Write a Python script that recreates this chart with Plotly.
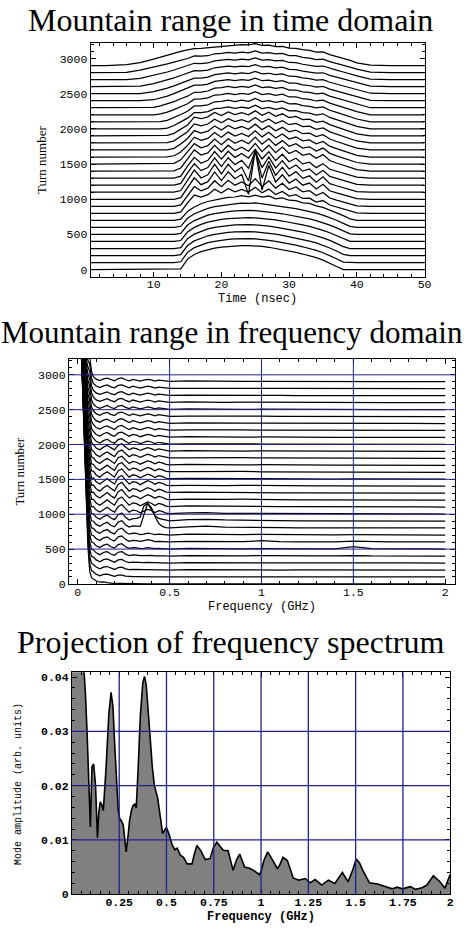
import plotly.graph_objects as go

# ---------------- Panel 1: mountain range in time domain ----------------
turn_numbers = [0, 100, 200, 300, 400, 500, 600, 700, 800, 900, 1000, 1100, 1200, 1300, 1400,
                1500, 1600, 1700, 1800, 1900, 2000, 2100, 2200, 2300, 2400, 2500, 2600, 2700, 2800, 2900]
time_ns = [0.7, 3, 6, 8, 10, 11, 12, 13, 14, 15, 16, 17, 18, 19, 20, 21, 22, 23, 24, 25, 26, 27, 28,
           29, 30, 31, 32, 33, 34, 35, 36, 37, 38, 39, 40, 42, 45, 50]

tp00 = [0,0,0,0,0,0,0,0, 10,150,215,255,285,305,320,330,338,342,342,338,330,318,302,285,265,245,222,198,170,135,95,45, 0,0,0,0,0,0]
tp01 = [0,0,0,0,0,0,0,0, 12,146,212,252,283,303,318,329,337,341,341,337,329,317,302,286,267,247,225,201,174,140,101,55, 8,0,0,0,0,0]
tp02 = [0,0,0,0,0,0,0,0, 12,142,208,250,281,301,317,328,336,340,340,336,328,317,303,287,269,250,229,205,179,146,108,65, 18,0,0,0,0,0]
tp03 = [0,0,0,0,0,0,0,0, 13,139,204,247,279,300,316,327,335,339,340,336,329,318,304,289,272,253,233,210,184,152,116,75, 28,0,0,0,0,0]
tp04 = [0,0,0,0,0,0,0,0, 14,136,200,244,276,298,314,326,334,339,340,337,330,319,306,291,275,257,237,215,190,159,124,85, 38,3,0,0,0,0]
tp05 = [0,0,0,0,0,0,0,0, 15,133,197,241,274,296,313,325,334,340,342,338,331,322,308,294,278,261,242,220,196,166,132,94, 48,8,0,0,0,0]
tp06 = [0,0,0,0,0,0,0,0, 16,130,194,238,271,294,311,324,336,344,340,348,334,330,312,300,282,268,247,228,202,174,140,102, 58,14,0,0,0,0]
tp07 = [0,0,0,0,0,0,0,0, 17,128,191,236,268,292,310,326,332,352,334,360,330,346,306,318,286,280,250,240,206,184,148,110, 68,20,0,0,0,0]
tp08 = [0,0,0,0,0,0,0,0, 20,150,260,230,265,343,288,354,307,339,302,370,291,344,268,312,245,265,211,215,161,182,118,88, 58,28,6,0,0,0]
tp09 = [0,0,0,0,0,0,0,0, 20,150,280,220,258,363,278,370,300,346,292,392,280,362,258,328,238,275,206,222,154,196,118,88, 58,28,6,0,0,0]
tp10 = [0,0,0,0,0,0,0,0, 22,160,305,207,250,388,265,390,292,354,70,700,130,480,245,348,230,287,200,230,146,213,120,90, 60,30,8,0,0,0]
tp11 = [0,0,0,0,0,0,0,0, 24,170,315,202,247,398,260,398,289,357,160,600,200,440,240,356,227,292,197,233,143,220,122,92, 62,32,10,0,0,0]
tp12 = [0,0,0,0,0,0,0,0, 25,175,305,207,250,388,265,390,292,354,240,480,250,400,245,348,230,287,200,230,146,213,124,94, 64,34,12,0,0,0]
tp13 = [0,0,0,0,0,0,0,0, 28,172,295,212,253,378,270,382,295,351,284,408,273,375,250,340,233,282,202,227,149,206,126,96, 66,36,13,0,0,0]
tp14 = [0,0,0,0,0,0,0,4, 44,170,300,227,259,366,271,368,293,341,283,393,277,368,261,341,249,293,224,248,182,234,150,115, 82,50,20,0,0,0]
tp15 = [0,0,0,0,0,0,0,10, 60,168,290,232,262,356,276,360,296,338,288,382,282,359,266,333,252,288,227,245,185,227,152,117, 84,52,22,0,0,0]
tp16 = [0,0,0,0,0,0,2,18, 72,166,282,236,265,348,280,354,299,335,292,373,286,352,270,327,255,284,229,242,188,221,154,119, 86,54,24,0,0,0]
tp17 = [0,0,0,0,0,0,3,24, 84,164,276,239,267,342,283,349,301,333,295,367,289,346,273,322,257,281,231,240,190,217,156,121, 88,56,26,0,0,0]
tp18 = [0,0,0,0,0,0,4,30, 96,160,270,242,269,336,286,344,303,331,298,360,292,341,276,317,259,278,232,238,192,213,158,124, 90,58,28,0,0,0]
tp19 = [0,0,0,0,0,0,8,36, 100,156,266,244,270,332,288,341,304,330,300,356,294,337,278,314,260,276,233,237,193,210,160,128, 94,62,30,0,0,0]
tp20 = [0,0,0,0,0,0,12,48, 100,152,232,232,244,288,294,311,290,310,293,336,289,305,278,298,256,259,231,222,197,214,162,132, 100,68,36,0,0,0]
tp21 = [0,0,0,0,0,4,22,58, 104,150,226,228,242,285,291,308,288,308,292,332,288,302,277,295,255,258,230,221,197,212,164,135, 104,72,40,0,0,0]
tp22 = [0,0,0,0,0,14,38,74, 116,156,222,225,240,281,288,305,287,305,291,328,287,299,275,292,253,255,228,219,196,209,165,137, 107,76,44,0,0,0]
tp23 = [0,0,0,0,5,26,52,88, 128,164,220,223,238,278,286,302,286,303,289,324,285,297,274,288,252,252,227,218,196,207,165,138, 109,78,48,0,0,0]
tp24 = [0,0,0,0,14,38,66,100, 138,172,220,222,237,275,283,298,284,300,288,320,284,294,272,285,250,250,225,216,194,203,164,138, 110,80,50,4,0,0]
tp25 = [0,0,0,2,28,52,80,112, 148,180,222,222,236,271,280,294,282,297,286,315,282,290,270,280,248,247,224,214,193,200,162,137, 110,80,52,6,0,0]
tp26 = [0,0,0,8,44,68,94,124, 158,188,227,224,235,268,276,291,279,293,283,311,279,287,267,277,245,243,221,211,191,197,160,136, 110,82,54,8,0,0]
tp27 = [0,0,0,18,58,82,108,136, 166,194,232,228,236,267,274,288,277,291,281,308,277,285,265,274,243,241,218,208,188,193,158,134, 108,80,52,8,0,0]
tp28 = [0,0,4,34,74,98,122,148, 174,200,237,232,239,267,273,286,276,290,281,306,277,283,264,272,242,239,216,206,185,189,155,132, 106,78,50,6,0,0]
tp29 = [0,0,12,40,90,120,150,178, 200,222,240,242,250,262,268,282,285,295,292,310,285,288,268,272,248,245,225,215,190,192,155,130, 100,72,38,4,0,0]

time_profiles = [tp00, tp01, tp02, tp03, tp04, tp05, tp06, tp07, tp08, tp09, tp10, tp11, tp12, tp13, tp14,
                 tp15, tp16, tp17, tp18, tp19, tp20, tp21, tp22, tp23, tp24, tp25, tp26, tp27, tp28, tp29]

# ---------------- Panel 2: mountain range in frequency domain ----------------
freq_ghz = [0, 0.006, 0.015, 0.025, 0.035, 0.045, 0.055, 0.065, 0.075,
            0.085, 0.1, 0.12, 0.14, 0.16, 0.18, 0.2, 0.22, 0.24, 0.26, 0.28, 0.3, 0.32, 0.34, 0.36,
            0.38, 0.4, 0.42, 0.44, 0.46, 0.48, 0.5,
            0.6, 0.7, 0.8, 0.9, 1.0, 1.1, 1.2, 1.3, 1.4, 1.5, 1.6, 1.7, 1.8, 1.9, 2.0]

fp00 = [4000,3800,3600,2900,2000,1200,550,180,90, 70,45,25,30,20,8,4,10,8,3,2,0,0,0,0,0,0,0,0,0,0,0, 0,0,0,0,0,0,0,0,0,0,0,0,0,0,0]
fp01 = [3900,3700,3500,2822,1950,1175,545,186,92, 75,40,18,38,42,20,8,25,28,12,4,6,5,2,2,3,2,0,2,1,0,0, 3,0,2,0,0,1,0,0,0,2,0,0,0,0,0]
fp02 = [3800,3600,3400,2744,1900,1150,540,192,94, 80,42,16,42,50,24,8,35,40,16,5,10,8,3,4,6,4,1,3,2,0,0, 5,2,4,1,2,0,1,0,0,3,0,0,1,0,0]
fp03 = [3700,3500,3300,2666,1850,1125,535,198,96, 85,45,18,48,58,28,10,45,52,22,6,14,10,4,6,10,7,2,5,3,1,0, 6,3,6,2,4,1,2,0,1,4,0,1,1,0,0]
fp04 = [3600,3400,3200,2588,1800,1100,530,204,98, 88,46,20,52,64,30,12,55,64,28,8,18,14,5,8,14,10,3,7,4,1,0, 8,4,8,3,6,2,3,1,2,8,1,1,2,1,0]
fp05 = [3500,3300,3100,2510,1750,1075,525,210,100, 92,48,22,56,70,34,14,65,78,34,10,22,18,6,12,20,14,5,10,6,2,0, 10,5,10,4,8,3,4,2,3,35,8,2,3,2,1]
fp06 = [3400,3200,3000,2432,1700,1050,520,216,102, 95,50,24,60,76,38,16,75,90,40,12,26,22,10,22,35,24,8,12,8,3,2, 12,8,14,6,20,6,4,3,4,15,4,3,4,3,2]
fp07 = [3300,3100,2900,2354,1650,1025,515,222,104, 98,52,26,62,80,40,18,82,100,46,14,30,24,8,16,28,20,8,14,10,3,2, 14,10,16,8,12,8,5,4,4,8,5,4,4,3,2]
fp08 = [3200,3000,2800,2276,1600,1000,510,228,106, 100,54,28,64,84,42,20,88,108,50,15,32,28,25,190,355,300,170,70,25,8,4, 20,30,15,10,14,8,6,5,5,8,6,4,5,4,3]
fp09 = [3100,2900,2700,2198,1550,975,505,234,108, 104,56,28,66,88,46,22,94,116,56,16,36,40,60,220,255,170,80,40,30,12,6, 22,28,18,12,10,8,6,6,5,8,6,5,5,4,3]
fp10 = [3000,2800,2600,2120,1500,950,500,240,110, 110,60,30,70,100,60,30,110,140,80,30,60,50,20,40,70,55,25,50,40,15,10, 18,22,14,12,10,8,6,5,5,7,5,4,4,4,3]
fp11 = [2900,2700,2500,2042,1450,925,495,246,112, 114,62,30,74,106,64,30,118,148,84,30,64,52,22,44,76,58,26,54,42,16,10, 20,16,22,10,12,8,8,6,5,8,6,5,4,4,3]
fp12 = [2800,2600,2400,1964,1400,900,490,252,114, 118,64,32,78,110,66,32,124,154,88,32,66,54,22,46,80,60,28,56,44,16,10, 16,20,14,16,10,9,7,6,6,7,5,5,4,4,3]
fp13 = [2700,2500,2300,1886,1350,875,485,258,116, 120,66,32,80,112,68,32,128,158,90,32,68,56,24,48,82,62,28,58,46,18,12, 18,14,20,12,12,8,8,6,5,8,6,5,4,4,3]
fp14 = [2600,2400,2200,1808,1300,850,480,264,118, 120,66,34,80,112,68,34,128,156,90,34,68,56,24,48,80,62,28,56,44,18,12, 14,18,12,14,10,9,7,6,6,7,5,5,4,4,3]
fp15 = [2500,2300,2100,1730,1250,825,475,270,120, 118,64,32,78,108,66,32,124,150,86,32,66,54,22,46,76,58,26,54,42,16,10, 16,12,18,10,12,8,7,6,5,7,5,4,4,3,3]
fp16 = [2400,2200,2000,1652,1200,800,470,276,122, 114,62,30,74,104,62,30,118,142,82,30,62,50,20,42,72,54,24,50,40,15,10, 12,16,10,14,9,8,6,5,5,6,5,4,4,3,2]
fp17 = [2300,2100,1900,1574,1150,775,465,282,124, 110,58,28,70,98,58,28,110,132,76,28,58,46,18,40,66,50,22,46,36,14,8, 14,10,16,8,10,7,6,5,4,6,4,4,3,3,2]
fp18 = [2200,2000,1800,1496,1100,750,460,288,126, 104,54,26,66,92,54,26,100,120,70,26,54,42,16,36,60,46,20,42,32,12,8, 10,14,8,12,8,7,5,5,4,5,4,3,3,3,2]
fp19 = [2100,1900,1700,1418,1050,725,455,294,128, 98,50,24,62,86,50,24,92,110,64,24,50,40,15,34,56,42,18,38,30,12,6, 12,8,14,6,9,6,5,4,4,5,4,3,3,2,2]
fp20 = [2000,1800,1600,1340,1000,700,450,300,130, 92,46,22,56,76,40,18,70,84,44,18,46,36,12,30,48,36,14,32,26,10,6, 10,12,8,10,7,6,5,4,4,5,3,3,3,2,2]
fp21 = [1900,1700,1500,1262,950,675,445,306,132, 90,44,22,54,72,38,17,66,78,42,17,44,34,12,28,46,34,13,30,24,9,6, 12,8,12,6,8,5,5,4,3,4,3,3,2,2,2]
fp22 = [1800,1600,1400,1184,900,650,440,312,134, 88,43,21,52,68,36,16,62,74,40,16,42,32,11,27,44,33,12,29,23,9,5, 9,11,7,9,6,5,4,4,3,4,3,3,2,2,2]
fp23 = [1700,1500,1300,1106,850,625,435,318,136, 86,42,20,50,65,34,16,58,70,37,16,41,31,11,26,42,32,12,28,22,9,5, 11,7,11,6,7,5,4,3,3,4,3,2,2,2,1]
fp24 = [1600,1400,1200,1028,800,600,430,324,138, 84,42,20,48,62,32,15,55,66,35,15,40,30,10,25,40,30,11,27,21,8,5, 8,10,6,8,6,5,4,3,3,4,3,2,2,2,1]
fp25 = [1500,1300,1100,950,750,575,425,330,140, 82,41,20,46,60,31,15,52,62,33,15,39,29,10,24,39,29,11,26,20,8,5, 10,6,10,5,6,4,4,3,3,3,2,2,2,2,1]
fp26 = [1400,1200,1000,872,700,550,420,336,142, 80,40,19,44,58,30,14,50,60,32,14,38,28,10,24,38,28,10,25,20,8,5, 12,14,6,7,5,4,3,3,3,3,2,2,2,1,1]
fp27 = [1300,1100,900,794,650,525,415,342,144, 78,40,19,43,56,29,14,48,58,31,14,37,28,10,23,37,28,10,24,19,8,4, 9,6,10,5,6,4,3,3,2,3,2,2,2,1,1]
fp28 = [1200,1000,800,716,600,500,410,348,146, 76,39,18,42,54,28,14,47,56,30,14,36,27,9,23,36,27,10,24,19,7,4, 7,9,5,7,5,4,3,3,2,3,2,2,1,1,1]
fp29 = [1100,900,700,638,550,475,405,354,148, 74,38,18,41,52,27,13,46,54,29,13,35,26,9,22,35,26,10,23,18,7,4, 14,8,12,6,6,4,3,3,2,3,2,2,1,1,1]

freq_profiles = [fp00, fp01, fp02, fp03, fp04, fp05, fp06, fp07, fp08, fp09, fp10, fp11, fp12, fp13, fp14,
                 fp15, fp16, fp17, fp18, fp19, fp20, fp21, fp22, fp23, fp24, fp25, fp26, fp27, fp28, fp29]

# ---------------- Panel 3: projection of frequency spectrum ----------------
spec_freq = [0, 0.02, 0.04, 0.055, 0.063, 0.071, 0.08, 0.089, 0.094, 0.0975, 0.106, 0.115, 0.125, 0.135,
             0.142, 0.15, 0.158, 0.166, 0.18, 0.195, 0.207, 0.217, 0.227, 0.245, 0.253, 0.262, 0.271,
             0.28, 0.287, 0.296, 0.305, 0.315, 0.323, 0.332, 0.34, 0.35, 0.362, 0.375, 0.384, 0.393,
             0.41, 0.425, 0.436, 0.453, 0.47, 0.479, 0.49, 0.5, 0.512, 0.522, 0.531, 0.545, 0.557,
             0.573, 0.59, 0.609, 0.635, 0.648, 0.661, 0.682, 0.705, 0.731, 0.748, 0.766, 0.78, 0.8,
             0.826, 0.84, 0.852, 0.87, 0.887, 0.9, 0.913, 0.939, 0.965, 0.991, 1.0, 1.015, 1.035,
             1.061, 1.087, 1.1, 1.116, 1.139, 1.155, 1.17, 1.2, 1.234, 1.26, 1.286, 1.321, 1.356,
             1.39, 1.43, 1.46, 1.485, 1.503, 1.52, 1.538, 1.573, 1.616, 1.66, 1.694, 1.72, 1.747,
             1.79, 1.816, 1.851, 1.877, 1.911, 1.946, 1.972, 2.0]
spec_amp = [0.12, 0.09, 0.065, 0.05, 0.0415, 0.0373, 0.03, 0.0197, 0.0182, 0.0124, 0.0235, 0.024, 0.02,
            0.0104, 0.015, 0.017, 0.0165, 0.0154, 0.023, 0.033, 0.0372, 0.0345, 0.027, 0.0154, 0.0139,
            0.0135, 0.0128, 0.01, 0.0078, 0.0105, 0.0136, 0.0155, 0.0163, 0.0166, 0.0159, 0.023,
            0.033, 0.039, 0.0401, 0.0385, 0.03, 0.0235, 0.02, 0.0178, 0.0136, 0.0112, 0.0118, 0.0123,
            0.0112, 0.0099, 0.009, 0.0082, 0.0085, 0.0072, 0.0068, 0.0056, 0.0056, 0.0075, 0.009,
            0.008, 0.0064, 0.0066, 0.0086, 0.0096, 0.009, 0.0081, 0.008, 0.0062, 0.0044, 0.0063,
            0.0074, 0.0062, 0.005, 0.0048, 0.0043, 0.0036, 0.0042, 0.0062, 0.0078, 0.0063, 0.0047,
            0.0055, 0.0068, 0.0062, 0.0045, 0.003, 0.0026, 0.0029, 0.0021, 0.0027, 0.0017, 0.0026,
            0.002, 0.004, 0.0023, 0.0045, 0.0065, 0.0058, 0.0044, 0.0021, 0.0019, 0.0014, 0.001,
            0.0013, 0.001, 0.0014, 0.0009, 0.0012, 0.0017, 0.0034, 0.0023, 0.0011, 0.0037]

# ---------------- ticks / grids ----------------
time_ticks = [10, 20, 30, 40, 50]
turn_ticks = [0, 500, 1000, 1500, 2000, 2500, 3000]
f2_ticks = [0, 0.5, 1, 1.5, 2]
f2_labels = ["0", "0.5", "1", "1.5", "2"]
f3_ticks = [0.25, 0.5, 0.75, 1, 1.25, 1.5, 1.75, 2]
f3_labels = ["0.25", "0.5", "0.75", "1", "1.25", "1.5", "1.75", "2"]
amp_ticks = [0, 0.01, 0.02, 0.03, 0.04]
amp_labels = ["0", "0.01", "0.02", "0.03", "0.04"]
grid2_f = [0.5, 1, 1.5]
grid2_turns = [500, 1000, 1500, 2000, 2500, 3000]
grid3_f = [0.25, 0.5, 0.75, 1, 1.25, 1.5, 1.75]
grid3_amp = [0.01, 0.02, 0.03]

for row in time_profiles:
    if len(row) != len(time_ns):
        raise ValueError("time row length %d" % len(row))
for row in freq_profiles:
    if len(row) != len(freq_ghz):
        raise ValueError("freq row length %d" % len(row))
if len(spec_freq) != len(spec_amp):
    raise ValueError("spec length %d %d" % (len(spec_freq), len(spec_amp)))

W, H = 470, 932
SERIF = "Liberation Serif"
MONO = "Liberation Mono"
NAVY = "#20208c"

fig = go.Figure()

for base, h in zip(turn_numbers, time_profiles):
    fig.add_trace(go.Scatter(x=time_ns, y=[base + v for v in h], mode="lines",
                             line=dict(color="black", width=1.25),
                             xaxis="x", yaxis="y", showlegend=False, hoverinfo="skip"))

for base, h in zip(turn_numbers, freq_profiles):
    fig.add_trace(go.Scatter(x=freq_ghz, y=[base + v for v in h], mode="lines",
                             line=dict(color="black", width=1.25),
                             xaxis="x2", yaxis="y2", showlegend=False, hoverinfo="skip"))

fig.add_trace(go.Scatter(x=spec_freq, y=spec_amp, mode="lines", fill="tozeroy",
                         fillcolor="#808080", line=dict(color="black", width=1.6),
                         xaxis="x3", yaxis="y3", showlegend=False, hoverinfo="skip"))


def axis(rng, domain, anchor, tickvals, ticktext, minor_dtick, bold=False, size=11.5, standoff=0):
    return dict(
        range=rng, domain=domain, anchor=anchor,
        tickmode="array", tickvals=tickvals, ticktext=ticktext,
        ticks="inside", ticklen=5, tickwidth=1, tickcolor="black",
        ticklabelstandoff=standoff,
        minor=dict(tickmode="linear", tick0=0, dtick=minor_dtick, ticks="inside",
                   ticklen=3, tickwidth=1, tickcolor="black", showgrid=False),
        showline=True, linewidth=1, linecolor="black", mirror="allticks",
        showgrid=False, zeroline=False, fixedrange=True,
        tickfont=dict(family=MONO, size=size, color="black",
                      weight="bold" if bold else "normal"),
    )


def py(y):
    return 1 - y / H


fig.update_layout(
    width=W, height=H, margin=dict(l=0, r=0, t=0, b=0),
    paper_bgcolor="white", plot_bgcolor="white", showlegend=False,
    xaxis=axis([0.69, 50], [92 / W, 431 / W], "y", time_ticks, [str(v) for v in time_ticks], 2, standoff=-3),
    yaxis=axis([-99, 3225], [py(278), py(42)], "x", turn_ticks, [str(v) for v in turn_ticks], 100),
    xaxis2=axis([-0.048, 2.054], [70 / W, 462 / W], "y2", f2_ticks, f2_labels, 0.1, standoff=-3),
    yaxis2=axis([0, 3228], [py(588), py(361)], "x2", turn_ticks, [str(v) for v in turn_ticks], 100),
    xaxis3=axis([0, 2], [73 / W, 457 / W], "y3", f3_ticks, f3_labels, 0.05, bold=True, standoff=-3),
    yaxis3=axis([0, 0.0409], [py(901), py(677)], "x3", amp_ticks, amp_labels, 0.002, bold=True),
)

shapes = []
for v in grid2_f:
    shapes.append(dict(type="line", xref="x2", yref="y2 domain", x0=v, x1=v, y0=0, y1=1,
                       line=dict(color=NAVY, width=1), layer="above"))
for v in grid2_turns:
    shapes.append(dict(type="line", xref="x2 domain", yref="y2", x0=0, x1=1, y0=v, y1=v,
                       line=dict(color=NAVY, width=1), layer="above"))
for v in grid3_f:
    shapes.append(dict(type="line", xref="x3", yref="y3 domain", x0=v, x1=v, y0=0, y1=1,
                       line=dict(color=NAVY, width=1.3), layer="above"))
for v in grid3_amp:
    shapes.append(dict(type="line", xref="x3 domain", yref="y3", x0=0, x1=1, y0=v, y1=v,
                       line=dict(color=NAVY, width=1.3), layer="above"))
fig.update_layout(shapes=shapes)


def note(text, x, y, family, size, angle=0, bold=False):
    return dict(text=text, x=x / W, y=py(y), xref="paper", yref="paper",
                xanchor="center", yanchor="middle", showarrow=False, textangle=angle,
                font=dict(family=family, size=size, color="black",
                          weight="bold" if bold else "normal"))


fig.update_layout(annotations=[
    note("Mountain range in time domain", 234, 19, SERIF, 32),
    note("Mountain range in frequency domain", 235, 334, SERIF, 31),
    note("Projection of frequency spectrum", 234, 647, SERIF, 32),
    note("Time (nsec)", 261, 301, MONO, 12),
    note("Turn number", 42, 160, SERIF, 13, angle=-90),
    note("Frequency (GHz)", 266, 611, MONO, 12),
    note("Turn number", 20, 475, SERIF, 13, angle=-90),
    note("Frequency (GHz)", 265, 924, MONO, 12, bold=True),
    note("Mode amplitude (arb. units)", 18, 790, MONO, 10, angle=-90),
])

fig.write_html("out.html")
